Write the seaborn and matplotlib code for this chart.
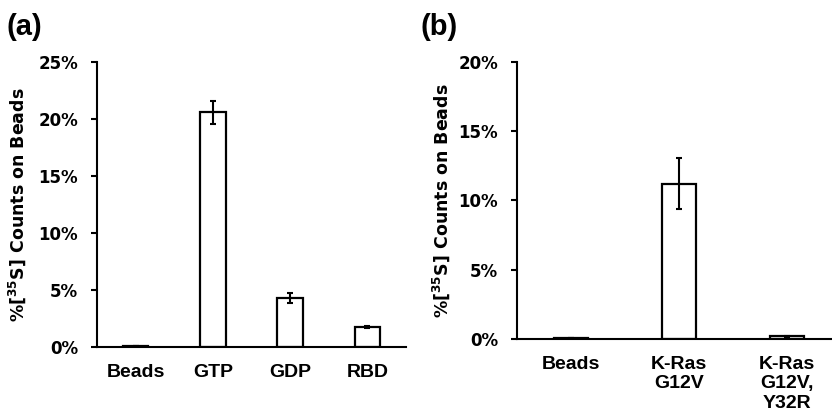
import matplotlib
matplotlib.use("Agg")
import matplotlib.pyplot as plt
from matplotlib.ticker import FuncFormatter
import seaborn as sns
import pandas as pd

# Panel (a) data
a_labels = ["Beads", "GTP", "GDP", "RBD"]
a_values = [0.05, 20.6, 4.3, 1.75]
a_errors = [0.0, 1.0, 0.45, 0.06]

# Panel (b) data
b_labels = ["Beads", "K-Ras\nG12V", "K-Ras\nG12V,\nY32R"]
b_values = [0.05, 11.2, 0.2]
b_errors = [0.0, 1.85, 0.03]

sns.set_theme(style="ticks")
plt.rcParams["font.family"] = ["Liberation Sans", "DejaVu Sans"]
plt.rcParams["font.weight"] = "bold"
plt.rcParams["mathtext.fontset"] = "dejavusans"
for key in ["text.color", "axes.labelcolor", "xtick.color", "ytick.color"]:
    plt.rcParams[key] = "black"

fig = plt.figure(figsize=(8.32, 4.19), dpi=100)
ax_a = fig.add_axes([0.1166, 0.172, 0.3714, 0.680])
ax_b = fig.add_axes([0.6214, 0.191, 0.3894, 0.661])


def draw_panel(ax, labels, values, errors, ymax, bar_width, label_x):
    df = pd.DataFrame({"group": labels, "value": values})
    sns.barplot(data=df, x="group", y="value", ax=ax, color="white",
                edgecolor="black", linewidth=1.6, width=bar_width,
                errorbar=None)
    ax.errorbar(range(len(labels)), values, yerr=errors, fmt="none",
                ecolor="black", elinewidth=1.5, capsize=2.5, capthick=1.5)
    ax.set_ylim(0, ymax)
    ax.set_xlim(-0.5, len(labels) - 0.5)
    ax.set_yticks(range(0, ymax + 1, 5))
    ax.yaxis.set_major_formatter(FuncFormatter(lambda v, p: f"{int(v)}%"))
    ax.set_xlabel("")
    ax.set_ylabel("%[$^{\\mathbf{35}}$S] Counts on Beads", fontsize=12.5,
                  fontweight="bold", family="DejaVu Sans")
    ax.yaxis.set_label_coords(label_x, 0.5)
    for side in ["top", "right"]:
        ax.spines[side].set_visible(False)
    for side in ["left", "bottom"]:
        ax.spines[side].set_linewidth(1.5)
        ax.spines[side].set_color("black")
    ax.tick_params(axis="y", length=4.5, width=1.5, pad=9)
    ax.tick_params(axis="x", length=0, pad=12)
    for t in ax.get_xticklabels():
        t.set_fontweight("bold")
        t.set_fontsize(14)
    for t in ax.get_yticklabels():
        t.set_fontweight("bold")
        t.set_fontsize(12)
        t.set_family("DejaVu Sans")


draw_panel(ax_a, a_labels, a_values, a_errors, 25, 0.33, -0.223)
draw_panel(ax_b, b_labels, b_values, b_errors, 20, 0.32, -0.201)
for t in ax_b.get_xticklabels():
    t.set_verticalalignment("top")
    t.set_linespacing(1.22)

fig.text(0.008, 0.968, "(a)", fontsize=21, fontweight="bold", va="top")
fig.text(0.505, 0.968, "(b)", fontsize=21, fontweight="bold", va="top")

fig.savefig("out.png", dpi=100)
